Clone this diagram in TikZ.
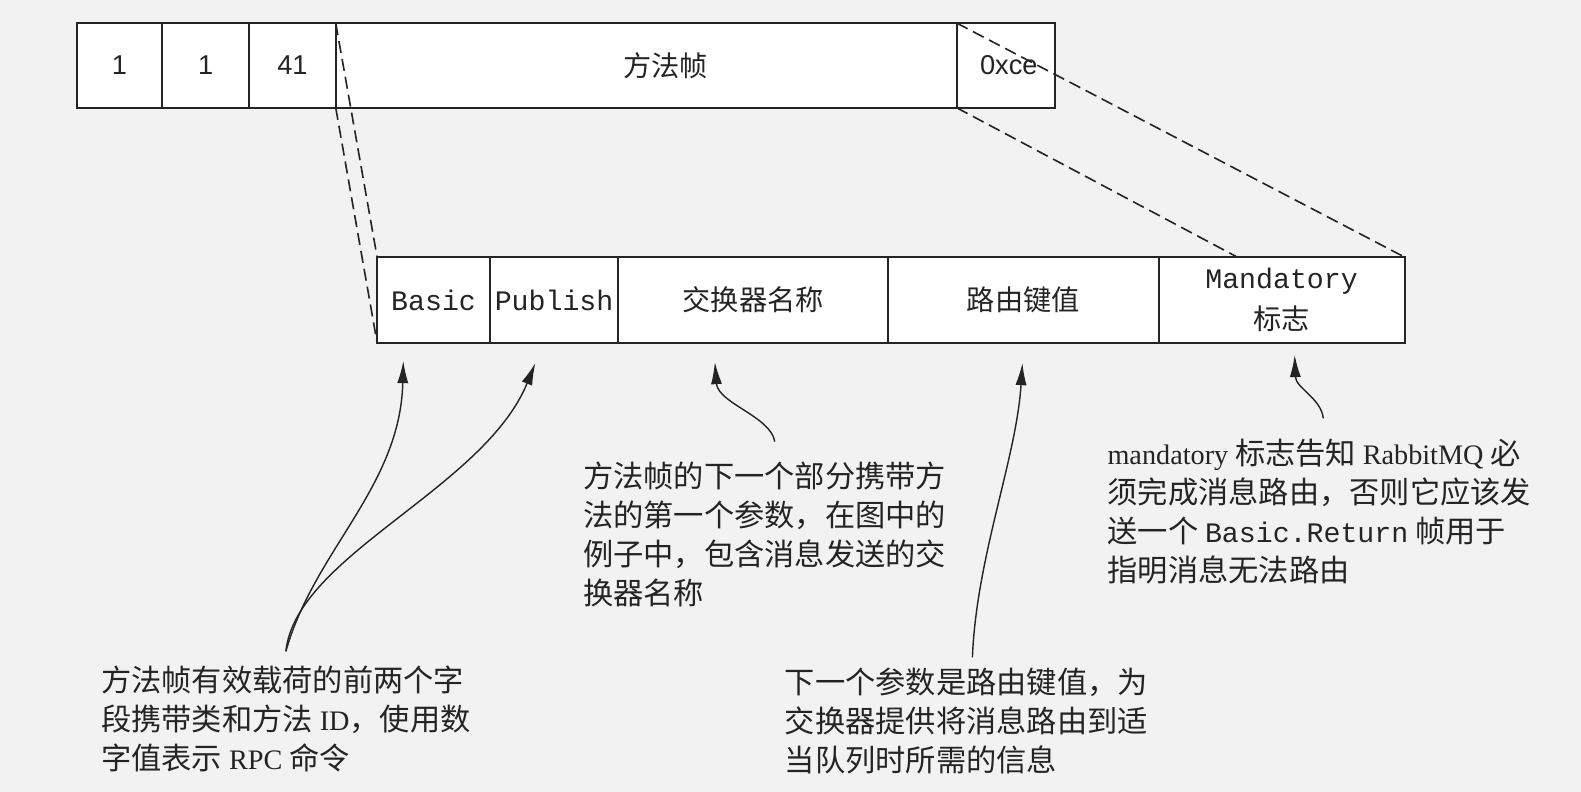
\documentclass[tikz,border=0pt]{standalone}
\usepackage{fontspec}
\setmainfont{Noto Sans CJK SC}
\setmonofont{Liberation Mono}
\newfontfamily\latin{Liberation Serif}
\newfontfamily\sansnum{Liberation Sans}
\usepackage{xcolor}
\usepackage{tikz}
\usetikzlibrary{positioning, calc, arrows.meta}

\definecolor{paper}{RGB}{242,242,242}
\definecolor{ink}{RGB}{36,36,36}
\newcommand{\lat}[1]{{\latin\fontsize{14}{19.3}\selectfont #1}}

\begin{document}
\begin{tikzpicture}[
    x=0.5pt, y=0.5pt,
    node distance=0pt,
    cell/.style={draw=ink, fill=white, line width=0.95pt, inner sep=1pt, outer sep=0pt, minimum height=42pt, text=ink, font=\sansnum\fontsize{13.5}{16}\selectfont},
    field/.style={cell, minimum height=42.5pt, font=\ttfamily\fontsize{14}{20}\selectfont},
    hanzi/.style={font=\rmfamily\fontsize{14}{20}\selectfont},
    guide/.style={draw=ink, line width=0.8pt, dash pattern=on 6pt off 3pt},
    note/.style={anchor=north west, inner sep=0pt, align=left, text=ink, font=\fontsize{15}{19.3}\selectfont},
    pointer/.style={-{Latex[length=11pt,width=5.5pt]}, draw=ink, line width=0.7pt}
]
    \fill[paper] (0,0) rectangle (1568,785);

    % frame header
    \node[cell, minimum width=42.5pt, anchor=north west] (t1) at (76,762) {1};
    \node[cell, minimum width=43pt, right=of t1] (t2) {1};
    \node[cell, minimum width=43pt, right=of t2] (t3) {41};
    \node[cell, hanzi, minimum width=308pt, right=of t3] (t4) {\hspace*{19pt}方法帧};
    \node[cell, minimum width=48.5pt, right=of t4] (t5) {\hspace*{3pt}0xce};

    % method payload
    \node[field, minimum width=56pt, anchor=north west] (b1) at (374,530) {Basic};
    \node[field, minimum width=63.5pt, right=of b1] (b2) {Publish};
    \node[field, hanzi, minimum width=134pt, right=of b2] (b3) {交换器名称};
    \node[field, hanzi, minimum width=134pt, right=of b3] (b4) {路由键值};
    \node[field, minimum width=122pt, right=of b4, align=center] (b5) {Mandatory\\{\rmfamily 标志}};

    \coordinate (cut) at ($(b5.north west)!0.32!(b5.north east)$);
    \draw[guide] (t4.north west) -- (b1.north west);
    \draw[guide] (t4.south west) -- (b1.south west);
    \draw[guide] (t5.north west) -- (b5.north east);
    \draw[guide] (t5.south west) -- (cut);

    % notes
    \node[note] (n1) at (100,125) {方法帧有效载荷的前两个字\\段携带类和方法 \lat{ID}，使用数\\字值表示 \lat{RPC} 命令};
    \node[note] (n2) at (578,327) {方法帧的下一个部分携带方\\法的第一个参数，在图中的\\例子中，包含消息发送的交\\换器名称};
    \node[note] (n3) at (778,123) {下一个参数是路由键值，为\\交换器提供将消息路由到适\\当队列时所需的信息};
    \node[note] (n4) at (1098,350) {\lat{mandatory} 标志告知 \lat{RabbitMQ} 必\\须完成消息路由，否则它应该发\\送一个 {\ttfamily\fontsize{14}{19.3}\selectfont Basic.Return} 帧用于\\指明消息无法路由};

    \coordinate (a1) at (400,427);
    \coordinate (a2) at (531,425);
    \coordinate (a3) at (709,426);
    \coordinate (a4) at (1014,425);
    \coordinate (a5) at (1284,433);

    \draw[pointer] ([yshift=7pt]n1.north) .. controls +(28,100) and +(-3,-125) .. (a1);
    \draw[pointer] ([yshift=7pt]n1.north) .. controls +(10,95) and +(-51,-125) .. (a2);
    \draw[pointer] ([xshift=5pt,yshift=10pt]n2.north) .. controls +(-4,25) and +(3,-41) .. (a3);
    \draw[pointer] ([xshift=3pt,yshift=5pt]n3.north) .. controls +(4,100) and +(-6,-95) .. (a4);
    \draw[pointer] ([xshift=2pt,yshift=10pt]n4.north) .. controls +(-2,20) and +(1,-33) .. (a5);
\end{tikzpicture}
\end{document}
